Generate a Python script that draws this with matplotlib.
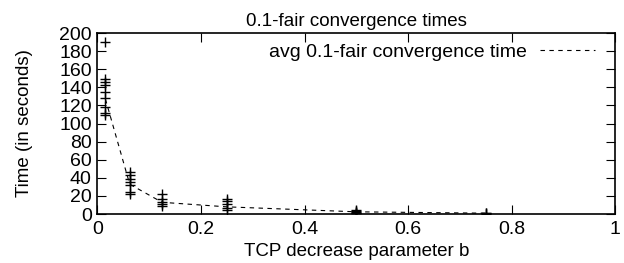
import matplotlib
matplotlib.use("Agg")
import matplotlib.pyplot as plt
import numpy as np

plt.rcParams['font.family'] = ['Liberation Sans', 'DejaVu Sans']

b_values = [1/64, 1/16, 1/8, 1/4, 1/2, 3/4]
samples = [
    [190, 149, 146, 143, 135, 128, 118, 112, 109],
    [46, 43, 39, 35, 32, 24, 22],
    [22, 17, 13, 11, 9],
    [17, 14, 11, 7, 4],
    [4, 3, 2, 1.5, 1],
    [1.5, 1, 0.5],
]
avg_times = [127, 33, 13, 8, 2.5, 1]

fig = plt.figure(figsize=(6.24, 2.63), dpi=100)
ax = fig.add_axes([0.156, 0.186, 0.830, 0.6885])

for b, s in zip(b_values, samples):
    ax.plot([b]*len(s), s, linestyle='none', marker='+', color='black',
            markersize=6.5, markeredgewidth=1.0)
ax.plot(b_values, avg_times, linestyle=(0, (4, 4)), color='black', linewidth=0.8,
        label='avg 0.1-fair convergence time')

ax.set_xlim(0, 1)
ax.set_ylim(0, 200)
ax.set_xticks(np.arange(0, 1.01, 0.2))
ax.set_xticklabels(['0', '0.2', '0.4', '0.6', '0.8', '1'])
ax.set_yticks(np.arange(0, 201, 20))
ax.tick_params(direction='in', top=True, right=True, length=6.5, labelsize=14, width=0.8)
ax.tick_params(axis='x', pad=5)
ax.tick_params(axis='y', pad=4)
for sp in ax.spines.values():
    sp.set_linewidth(1.2)
ax.set_title('0.1-fair convergence times', fontsize=13.5, pad=5)
ax.set_xlabel('TCP decrease parameter b', fontsize=13.5)
ax.xaxis.set_label_coords(0.5, -0.16)
ax.set_ylabel('Time (in seconds)', fontsize=13.5)
ax.yaxis.set_label_coords(-0.125, 0.5)
leg = ax.legend(loc='upper right', frameon=False, fontsize=14, handlelength=2.8,
                markerfirst=False, borderaxespad=0.0, handletextpad=0.7,
                bbox_to_anchor=(0.975, 0.985))
fig.savefig('out.png', dpi=100)
